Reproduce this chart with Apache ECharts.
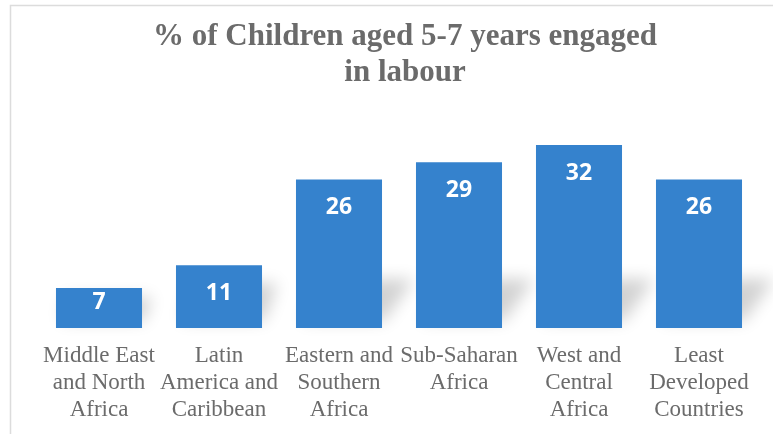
<!DOCTYPE html>
<html>
<head>
<meta charset="utf-8">
<script src="https://cdn.jsdelivr.net/npm/echarts@6/dist/echarts.min.js"></script>
<style>
html,body{margin:0;padding:0;background:#fff;}
#chart{width:773px;height:434px;}
</style>
</head>
<body>
<div id="chart"></div>
<script>
const titleText = '% of Children aged 5-7 years engaged\nin labour';
const categories = [
  'Middle East\nand North\nAfrica',
  'Latin\nAmerica and\nCaribbean',
  'Eastern and\nSouthern\nAfrica',
  'Sub-Saharan\nAfrica',
  'West and\nCentral\nAfrica',
  'Least\nDeveloped\nCountries'
];
const values = [7, 11, 26, 29, 32, 26];

const chart = echarts.init(document.getElementById('chart'), null, {renderer: 'canvas'});

const barData = values.map((v, i) => ({
  value: v,
  label: { distance: i === 0 ? 3 : 17 }
}));
const shadowData = values.map((v, i) => [i, v]);

const option = {
  animation: false,
  backgroundColor: '#ffffff',
  graphic: [{
    type: 'rect',
    z: -10,
    shape: { x: 10.5, y: 5.5, width: 900, height: 600 },
    style: { fill: 'none', stroke: '#dcdcdc', lineWidth: 1.5 }
  }],
  title: {
    text: titleText,
    left: 400,
    top: 14,
    textAlign: 'center',
    textStyle: {
      fontFamily: '"Liberation Serif", serif',
      fontWeight: 'bold',
      fontSize: 31,
      lineHeight: 36,
      color: '#6b6b6b'
    }
  },
  grid: { left: 39, right: 14, top: 99.4, bottom: 106 },
  xAxis: {
    type: 'category',
    data: categories,
    axisLine: { show: false },
    axisTick: { show: false },
    axisLabel: {
      interval: 0,
      margin: 14,
      fontFamily: '"Liberation Serif", serif',
      fontSize: 23,
      lineHeight: 27,
      color: '#6b6b6b'
    }
  },
  yAxis: {
    type: 'value',
    min: 0,
    max: 40,
    show: false,
    splitLine: { show: false }
  },
  series: [
    {
      type: 'custom',
      z: 1,
      clip: false,
      data: shadowData,
      encode: { x: 0, y: 1 },
      renderItem: function (params, api) {
        const idx = api.value(0);
        const v = api.value(1);
        const base = api.coord([idx, 0]);
        const top = api.coord([idx, v]);
        const bw = api.size([1, 0])[0] * 0.717;
        const h = base[1] - top[1];
        const xl = base[0] - bw / 2;
        const xr = base[0] + bw / 2;
        const yb = base[1] - 7;
        const sh = Math.min(h * 0.6, 42);
        const slant = Math.min(h * 0.24, 32);
        const off = 2000;
        return {
          type: 'polygon',
          shape: {
            points: [
              [xl + 6 - off, yb],
              [xr + 2 - off, yb],
              [xr + slant - off, yb - sh],
              [xl + slant - off, yb - sh]
            ]
          },
          style: {
            fill: 'rgba(0,0,0,0.3)',
            shadowColor: 'rgba(0,0,0,0.6)',
            shadowBlur: 16,
            shadowOffsetX: off,
            shadowOffsetY: 0
          },
          silent: true
        };
      }
    },
    {
      type: 'bar',
      z: 2,
      data: barData,
      barCategoryGap: '28.3%',
      itemStyle: { color: '#3582cd' },
      label: {
        show: true,
        position: 'insideTop',
        color: '#ffffff',
        fontFamily: '"Open Sans", sans-serif',
        fontWeight: 'bold',
        fontSize: 23
      }
    }
  ]
};
chart.setOption(option);
</script>
</body>
</html>
